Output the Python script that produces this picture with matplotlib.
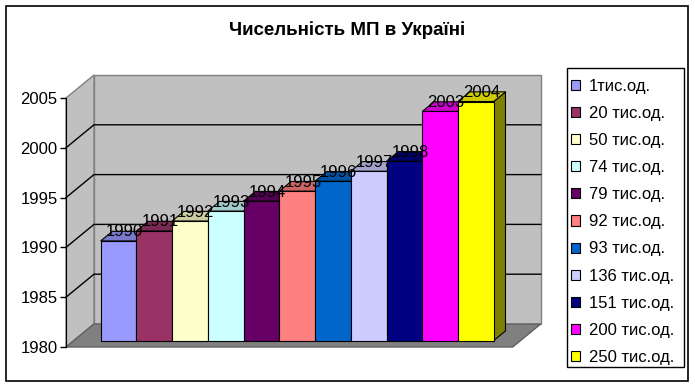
#!/usr/bin/env python3
"""Excel-style 3D column chart: Чисельність МП в Україні."""

import matplotlib

matplotlib.use("Agg")
import matplotlib.pyplot as plt
from matplotlib.patches import Polygon, Rectangle

plt.rcParams["font.family"] = ["Liberation Sans", "DejaVu Sans"]

YEARS = [1990, 1991, 1992, 1993, 1994, 1995, 1996, 1997, 1998, 2003, 2004]
LABELS = [
    "1тис.од.", "20 тис.од.", "50 тис.од.", "74 тис.од.", "79 тис.од.",
    "92 тис.од.", "93 тис.од.", "136 тис.од.", "151 тис.од.", "200 тис.од.",
    "250 тис.од.",
]
COLORS = [
    "#9999FF", "#993366", "#FFFFCC", "#CCFFFF", "#660066", "#FF8080",
    "#0066CC", "#CCCCFF", "#000080", "#FF00FF", "#FFFF00",
]
YMIN, YMAX = 1980, 2005

W, H = 695, 387
DX, DY = 0.783, 2.31      # depth of the plot box, data units
F0, BD = 0.28, 0.42       # bar front depth fraction, bar depth fraction
XMAX = 12.5


def shade(color, k):
    r, g, b = matplotlib.colors.to_rgb(color)
    return (r * k, g * k, b * k)


def main():
    fig = plt.figure(figsize=(W / 100, H / 100), dpi=100)
    fig.patch.set_facecolor("white")
    fig.patches.append(Rectangle((6 / W, 6 / H), 682 / W, 375 / H, transform=fig.transFigure,
                                 fill=False, edgecolor="black", linewidth=1.2, zorder=-1))
    # legend box
    fig.patches.append(Rectangle((567 / W, 1 - 367 / H), 117 / W, 299 / H, transform=fig.transFigure,
                                 facecolor="white", edgecolor="black", linewidth=1, zorder=-1))

    ax = fig.add_axes([66 / W, (H - 347) / H, 446.7 / W, 249 / H])
    ax.set_xlim(0, XMAX)
    ax.set_ylim(YMIN, YMAX)
    ax.patch.set_visible(False)
    for side in ("top", "right", "bottom"):
        ax.spines[side].set_visible(False)
    ax.spines["left"].set_zorder(20)
    ax.set_xticks([])
    ax.set_yticks(range(YMIN, YMAX + 1, 5))
    ax.tick_params(axis="y", length=4, width=1, labelsize=12, pad=2)

    # walls and floor
    back = Polygon([(DX, YMIN + DY), (XMAX + DX, YMIN + DY), (XMAX + DX, YMAX + DY), (DX, YMAX + DY)],
                   facecolor="#C0C0C0", edgecolor="#808080", linewidth=1, clip_on=False, zorder=1)
    left = Polygon([(0, YMIN), (DX, YMIN + DY), (DX, YMAX + DY), (0, YMAX)],
                   facecolor="#C0C0C0", edgecolor="#808080", linewidth=1, clip_on=False, zorder=1)
    floor = Polygon([(0, YMIN), (XMAX, YMIN), (XMAX + DX, YMIN + DY), (DX, YMIN + DY)],
                    facecolor="#808080", edgecolor="#606060", linewidth=1, clip_on=False, zorder=1)
    for p in (back, left, floor):
        ax.add_patch(p)
    for y in range(YMIN + 5, YMAX, 5):
        ax.plot([0, DX, XMAX + DX], [y, y + DY, y + DY], color="black", linewidth=1,
                clip_on=False, zorder=1.5)

    handles = []
    for i, (v, c, lab) in enumerate(zip(YEARS, COLORS, LABELS)):
        z = 3 + i
        x0 = 0.75 + i + F0 * DX
        a = F0 * DY
        bx, by = BD * DX, BD * DY
        side = Polygon([(x0 + 1, YMIN + a), (x0 + 1 + bx, YMIN + a + by), (x0 + 1 + bx, v + a + by), (x0 + 1, v + a)],
                       facecolor=shade(c, 0.5), edgecolor="black", linewidth=0.8, clip_on=False, zorder=z)
        top = Polygon([(x0, v + a), (x0 + 1, v + a), (x0 + 1 + bx, v + a + by), (x0 + bx, v + a + by)],
                      facecolor=shade(c, 0.8), edgecolor="black", linewidth=0.8, clip_on=False, zorder=z)
        ax.add_patch(side)
        ax.add_patch(top)
        bars = ax.bar(x0, v - YMIN, bottom=YMIN + a, width=1, align="edge", color=c,
                      edgecolor="black", linewidth=0.8, label=lab, zorder=z + 0.1, clip_on=False)
        handles.append(bars)
        ax.annotate(str(v), (x0 + 0.5 + bx / 2, v + a + by / 2), xytext=(0, 3), textcoords="offset points",
                    ha="center", va="center", fontsize=12, zorder=30, annotation_clip=False)

    fig.text(347 / W, 1 - 30 / H, "Чисельність МП в Україні", ha="center", va="center",
             fontsize=13.5, fontweight="bold")

    ax.legend(handles, LABELS, loc="upper left", bbox_to_anchor=(571 / W, 1 - 78.5 / H),
              bbox_transform=fig.transFigure, borderaxespad=0, frameon=False, borderpad=0,
              fontsize=12, handlelength=0.56, handleheight=0.56, handletextpad=0.5,
              labelspacing=0.73)

    fig.savefig("out.png", dpi=100)


if __name__ == "__main__":
    main()
